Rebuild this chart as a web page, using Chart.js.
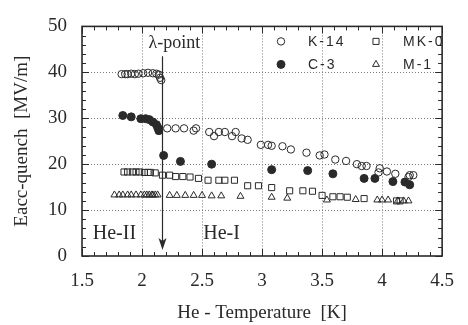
<!DOCTYPE html>
<html>
<head>
<meta charset="utf-8">
<script src="https://cdn.jsdelivr.net/npm/chart.js@4.4.1/dist/chart.umd.min.js"></script>
<style>
  html, body { margin: 0; padding: 0; background: #fff; }
  #wrap { width: 468px; height: 325px; }
</style>
</head>
<body>
<div id="wrap"><canvas id="quench" width="468" height="325"></canvas></div>
<script>
// values (temperature in K, field in MV/m)
const k14T = [1.83, 1.86, 1.88, 1.91, 1.94, 1.97, 2.01, 2.05, 2.09, 2.12, 2.14, 2.15, 2.16,
              2.21, 2.28, 2.35, 2.43, 2.45, 2.56, 2.60, 2.64, 2.69, 2.75, 2.78, 2.83, 2.88,
              2.99, 3.05, 3.08, 3.17, 3.24, 3.37, 3.48, 3.52, 3.61, 3.70, 3.79, 3.83, 3.87,
              3.98, 3.97, 4.04, 4.11, 4.22, 4.23, 4.26];
const k14E = [39.6, 39.6, 39.6, 39.7, 39.6, 39.7, 39.8, 39.9, 39.8, 39.7, 39.5, 38.8, 38.3,
              27.8, 27.8, 27.8, 27.3, 27.8, 27.0, 26.1, 27.0, 27.0, 26.1, 27.0, 25.6, 25.3,
              24.2, 24.2, 24.0, 23.9, 23.2, 22.5, 21.9, 22.1, 21.0, 20.7, 20.0, 19.6, 19.6,
              19.1, 18.2, 18.4, 17.9, 17.2, 17.6, 17.6];

const c3T = [1.84, 1.91, 1.99, 2.03, 2.06, 2.09, 2.12, 2.13, 2.14,
             2.18, 2.32, 2.58, 3.08, 3.38, 3.59, 3.85, 3.94, 4.09, 4.19, 4.23];
const c3E = [30.6, 30.3, 29.9, 29.9, 29.7, 29.2, 28.6, 28.0, 27.3,
             21.9, 20.6, 20.0, 18.8, 18.6, 17.9, 16.9, 16.9, 16.2, 16.1, 15.5];

const mk0T = [1.85, 1.88, 1.92, 1.95, 1.98, 2.02, 2.05, 2.07, 2.11,
              2.17, 2.23, 2.28, 2.34, 2.40, 2.47, 2.55, 2.64, 2.69, 2.77, 2.88, 2.97,
              3.08, 3.23, 3.34, 3.42, 3.50, 3.59, 3.65, 3.71, 3.85, 4.12, 4.15];
const mk0E = [18.3, 18.3, 18.3, 18.3, 18.3, 18.2, 18.2, 18.2, 18.1,
              17.6, 17.6, 17.3, 17.3, 17.2, 16.9, 16.5, 16.5, 16.5, 16.5, 15.3, 15.3,
              14.9, 14.2, 14.2, 14.1, 13.2, 12.9, 12.9, 12.8, 12.5, 12.0, 12.0];

const m1T = [1.77, 1.81, 1.84, 1.88, 1.91, 1.95, 1.99, 2.02, 2.04, 2.06, 2.08, 2.09, 2.11, 2.13,
             2.23, 2.29, 2.36, 2.43, 2.50, 2.58, 2.66, 2.82, 3.08, 3.21, 3.54, 3.78, 3.96,
             4.00, 4.05, 4.13, 4.18, 4.22];
const m1E = [13.3, 13.3, 13.3, 13.3, 13.3, 13.3, 13.3, 13.3, 13.3, 13.3, 13.3, 13.3, 13.3, 13.3,
             13.2, 13.2, 13.2, 13.2, 13.2, 13.1, 13.1, 13.0, 12.8, 12.6, 12.2, 12.3, 12.2,
             12.2, 12.2, 12.0, 12.0, 12.0];

const xTickValues = [1.5, 2, 2.5, 3, 3.5, 4, 4.5];
const yTickValues = [0, 10, 20, 30, 40, 50];
const xMinorStep = 0.1;
const yMinorStep = 2;

const lambdaT = 2.17;

const INK = "#2a2a2a";
const GRID = "#7a7a7a";
const SERIF = "'Liberation Serif', 'DejaVu Serif', serif";
const SANS = "'Liberation Sans', Arial, sans-serif";

function pairs(xs, ys) {
    return xs.map((x, i) => ({ x: x, y: ys[i] }));
}

function series(label, xs, ys, style, filled, radius) {
    return {
        label: label,
        data: pairs(xs, ys),
        pointStyle: style,
        pointRadius: radius,
        pointHoverRadius: radius,
        pointBorderWidth: 1,
        borderColor: INK,
        backgroundColor: filled ? INK : "rgba(0,0,0,0)",
        showLine: false
    };
}

const datasets = [
    series("K-14", k14T, k14E, "circle", false, 3.7),
    series("C-3", c3T, c3E, "circle", true, 4),
    series("MK-0", mk0T, mk0E, "rect", false, 4.3),
    series("M-1", m1T, m1E, "triangle", false, 4)
];

// legend laid out in two columns inside the plot, like the original
const legendCells = [
    { set: 0, col: 0, row: 0 },
    { set: 2, col: 1, row: 0 },
    { set: 1, col: 0, row: 1 },
    { set: 3, col: 1, row: 1 }
];

// dotted grid under the points
const gridPlugin = {
    id: "dotgrid",
    beforeDatasetsDraw(chart) {
        const { ctx, chartArea: a, scales } = chart;
        ctx.save();
        ctx.strokeStyle = GRID;
        ctx.lineWidth = 1;
        ctx.setLineDash([1, 2]);
        xTickValues.slice(1, -1).forEach(v => {
            const px = Math.round(scales.x.getPixelForValue(v)) + 0.5;
            ctx.beginPath();
            ctx.moveTo(px, a.top); ctx.lineTo(px, a.bottom);
            ctx.stroke();
        });
        yTickValues.slice(1, -1).forEach(v => {
            const py = Math.round(scales.y.getPixelForValue(v)) + 0.5;
            ctx.beginPath();
            ctx.moveTo(a.left, py); ctx.lineTo(a.right, py);
            ctx.stroke();
        });
        ctx.restore();
    }
};

const framePlugin = {
    id: "frame",
    afterDraw(chart) {
        const { ctx, chartArea: a, scales } = chart;
        const xs = scales.x, ys = scales.y;
        ctx.save();
        ctx.strokeStyle = INK;
        ctx.lineWidth = 1;
        // inward ticks on every side
        const nx = Math.round((xs.max - xs.min) / xMinorStep);
        for (let i = 0; i <= nx; i++) {
            const v = xs.min + i * xMinorStep;
            const major = xTickValues.some(t => Math.abs(t - v) < 1e-6);
            const len = major ? 7 : 4;
            const px = Math.round(xs.getPixelForValue(v)) + 0.5;
            ctx.beginPath();
            ctx.moveTo(px, a.bottom); ctx.lineTo(px, a.bottom - len);
            ctx.moveTo(px, a.top); ctx.lineTo(px, a.top + len);
            ctx.stroke();
        }
        const ny = Math.round((ys.max - ys.min) / yMinorStep);
        for (let i = 0; i <= ny; i++) {
            const v = ys.min + i * yMinorStep;
            const major = yTickValues.includes(v);
            const len = major ? 7 : 4;
            const py = Math.round(ys.getPixelForValue(v)) + 0.5;
            ctx.beginPath();
            ctx.moveTo(a.left, py); ctx.lineTo(a.left + len, py);
            ctx.moveTo(a.right, py); ctx.lineTo(a.right - len, py);
            ctx.stroke();
        }
        ctx.lineWidth = 1.6;
        ctx.strokeRect(a.left, a.top, a.right - a.left, a.bottom - a.top);

        // lambda point arrow and labels
        const lx = Math.round(xs.getPixelForValue(lambdaT)) + 0.5;
        const yTop = ys.getPixelForValue(43.5);
        const yTip = ys.getPixelForValue(1.3);
        ctx.lineWidth = 1.2;
        ctx.beginPath();
        ctx.moveTo(lx, yTop);
        ctx.lineTo(lx, yTip - 8);
        ctx.stroke();
        ctx.fillStyle = INK;
        ctx.beginPath();
        ctx.moveTo(lx, yTip);
        ctx.lineTo(lx - 4, yTip - 12);
        ctx.lineTo(lx, yTip - 9);
        ctx.lineTo(lx + 4, yTip - 12);
        ctx.closePath();
        ctx.fill();

        ctx.font = "18px " + SERIF;
        ctx.textBaseline = "middle";
        ctx.textAlign = "center";
        ctx.fillText("λ-point", xs.getPixelForValue(2.27), ys.getPixelForValue(46.4));
        ctx.font = "20px " + SERIF;
        ctx.textAlign = "left";
        ctx.fillText("He-II", xs.getPixelForValue(1.59), ys.getPixelForValue(4.9));
        ctx.fillText("He-I", xs.getPixelForValue(2.51), ys.getPixelForValue(4.9));

        // legend
        ctx.font = "14px " + SANS;
        ctx.letterSpacing = "2px";
        legendCells.forEach(c => {
            const ds = chart.data.datasets[c.set];
            const mx = a.left + 199 + c.col * 95;
            const my = a.top + 15 + c.row * 23;
            ctx.fillStyle = ds.backgroundColor;
            ctx.strokeStyle = INK;
            ctx.lineWidth = 1;
            Chart.helpers.drawPoint(ctx, {
                pointStyle: ds.pointStyle,
                radius: ds.pointRadius,
                borderWidth: 1
            }, mx, my);
            ctx.fillStyle = INK;
            ctx.textAlign = "left";
            ctx.fillText(ds.label, mx + 27, my + 1);
        });
        ctx.restore();
    }
};

new Chart(document.getElementById("quench"), {
    type: "scatter",
    data: { datasets: datasets },
    options: {
        responsive: false,
        animation: false,
        events: [],
        layout: { padding: { top: 20, right: 22, left: 0, bottom: 0 } },
        plugins: {
            legend: { display: false },
            tooltip: { enabled: false }
        },
        scales: {
            x: {
                type: "linear",
                min: 1.5,
                max: 4.5,
                afterBuildTicks: (s) => { s.ticks = xTickValues.map(v => ({ value: v })); },
                afterFit: (s) => { s.height = 69; },
                ticks: {
                    padding: 14,
                    color: INK,
                    font: { family: SERIF, size: 19 },
                    callback: (v) => String(v)
                },
                grid: { display: false, drawTicks: false },
                border: { display: false },
                title: {
                    display: true,
                    text: "He - Temperature  [K]",
                    color: INK,
                    font: { family: SERIF, size: 19 },
                    padding: { top: 0, bottom: 1 }
                }
            },
            y: {
                type: "linear",
                min: 0,
                max: 50,
                afterBuildTicks: (s) => { s.ticks = yTickValues.map(v => ({ value: v })); },
                afterFit: (s) => { s.width = 82; },
                ticks: {
                    padding: 15,
                    color: INK,
                    font: { family: SERIF, size: 19 },
                    callback: (v) => String(v)
                },
                grid: { display: false, drawTicks: false },
                border: { display: false },
                title: {
                    display: true,
                    text: "Eacc-quench  [MV/m]",
                    color: INK,
                    font: { family: SERIF, size: 19 },
                    padding: { top: 11, bottom: 0 }
                }
            }
        }
    },
    plugins: [gridPlugin, framePlugin]
});
</script>
</body>
</html>
